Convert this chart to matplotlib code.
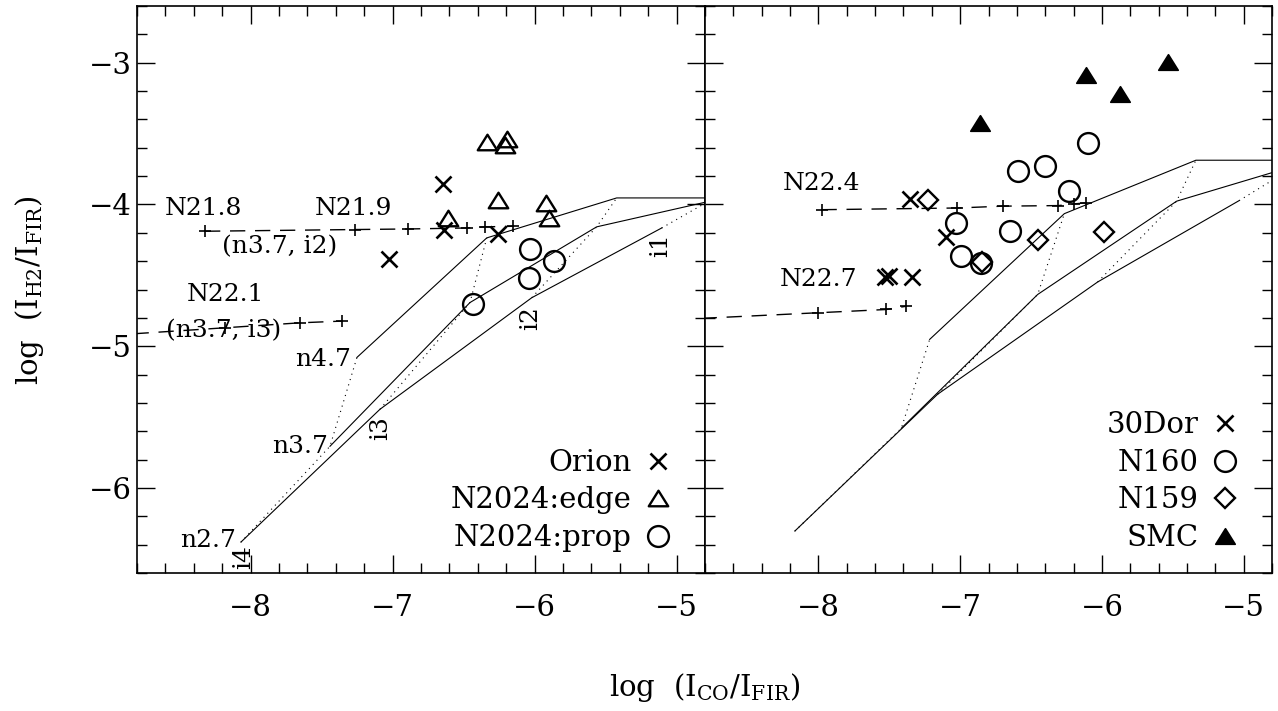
import matplotlib
matplotlib.use("Agg")
import matplotlib.pyplot as plt
import numpy as np
from matplotlib.path import Path
from matplotlib.ticker import MultipleLocator

plt.rcParams['font.family'] = ['DejaVu Serif', 'DejaVu Sans']
plt.rcParams['mathtext.fontset'] = 'dejavuserif'

XLIM = (-8.8, -4.8)
YLIM = (-6.6, -2.6)

# ---------------- model grids ----------------
# rows: density n2.7, n3.7, n4.7 ; columns: intensity i4, i3, i2, i1
left_grid_x = [[-8.068, -7.089, -6.020, -5.105],
               [-7.441, -6.455, -5.563, -4.779],
               [-7.251, -6.337, -5.422, -4.500]]
left_grid_y = [[-6.382, -5.445, -4.658, -4.166],
               [-5.706, -4.692, -4.158, -3.980],
               [-5.079, -4.236, -3.954, -3.954]]
right_grid_x = [[-8.166, -7.159, -6.030, -5.032],
                [-7.415, -6.453, -5.473, -4.624],
                [-7.215, -6.265, -5.337, -4.400]]
right_grid_y = [[-6.304, -5.339, -4.547, -3.973],
                [-5.579, -4.635, -3.977, -3.723],
                [-4.952, -4.065, -3.688, -3.688]]

# ---------------- column density tracks ----------------
left_track1_x = [-8.321, -7.265, -6.892, -6.478, -6.349, -6.150]
left_track1_y = [-4.189, -4.177, -4.173, -4.166, -4.158, -4.154]
left_track2_x = [-9.0, -8.180, -7.652, -7.359]
left_track2_y = [-4.924, -4.870, -4.835, -4.823]
right_track1_x = [-7.978, -7.022, -6.699, -6.307, -6.194, -6.115]
right_track1_y = [-4.037, -4.025, -4.012, -4.008, -3.996, -3.989]
right_track2_x = [-9.0, -8.002, -7.520, -7.380]
right_track2_y = [-4.812, -4.764, -4.741, -4.718]

# ---------------- observations ----------------
orion_x = [-6.647, -6.635, -6.258, -7.023]
orion_y = [-3.856, -4.183, -4.211, -4.384]
edge_x = [-6.333, -6.192, -6.208, -6.256, -5.920, -5.896, -6.608]
edge_y = [-3.558, -3.538, -3.579, -3.968, -3.992, -4.095, -4.095]
prop_x = [-6.432, -6.032, -6.037, -5.863]
prop_y = [-4.701, -4.313, -4.518, -4.401]

dor_x = [-7.356, -7.098, -7.532, -7.502, -7.337]
dor_y = [-3.959, -4.232, -4.513, -4.506, -4.511]
n160_x = [-6.101, -6.594, -6.401, -6.234, -7.027, -6.647, -6.992, -6.851]
n160_y = [-3.567, -3.767, -3.732, -3.908, -4.130, -4.189, -4.366, -4.412]
n159_x = [-7.227, -6.848, -6.453, -5.988]
n159_y = [-3.966, -4.408, -4.250, -4.196]
smc_x = [-6.858, -6.110, -5.870, -5.535]
smc_y = [-3.422, -3.085, -3.221, -2.998]

# ---------------- annotations ----------------
left_labels = ["N21.8", "N21.9", "(n3.7, i2)", "N22.1", "(n3.7, i3)",
               "n4.7", "n3.7", "n2.7"]
left_labels_x = [-8.335, -7.277, -7.796, -8.175, -8.192, -7.488, -7.652, -8.302]
left_labels_y = [-4.072, -4.072, -4.342, -4.682, -4.940, -5.140, -5.750, -6.419]
left_ilabels = ["i4", "i3", "i2", "i1"]
left_ilabels_x = [-8.051, -7.082, -6.025, -5.110]
left_ilabels_y = [-6.487, -5.579, -4.804, -4.290]
right_labels = ["N22.4", "N22.7"]
right_labels_x = [-7.978, -8.002]
right_labels_y = [-3.896, -4.577]

# triangle marker (wider than tall)
tri = Path([(0, 0.8), (-1, -0.8), (1, -0.8), (0, 0.8)],
           [Path.MOVETO, Path.LINETO, Path.LINETO, Path.CLOSEPOLY])

fig = plt.figure(figsize=(12.78, 7.11), dpi=100)
axL = fig.add_axes([137/1278, (711-573)/711, 568/1278, 567/711])
axR = fig.add_axes([705/1278, (711-573)/711, 567/1278, 567/711])

TICKFS = 21
for ax in (axL, axR):
    ax.set_xlim(*XLIM)
    ax.set_ylim(*YLIM)
    ax.xaxis.set_major_locator(MultipleLocator(1))
    ax.xaxis.set_minor_locator(MultipleLocator(0.2))
    ax.yaxis.set_major_locator(MultipleLocator(1))
    ax.yaxis.set_minor_locator(MultipleLocator(0.2))
    ax.tick_params(which='both', direction='in', top=True, right=True,
                   width=1.0, color='k', labelsize=TICKFS)
    ax.tick_params(which='major', length=13)
    ax.tick_params(which='minor', length=7)
    ax.tick_params(axis='x', pad=15)
    ax.tick_params(axis='y', pad=4)
    for s in ax.spines.values():
        s.set_linewidth(1.2)
axR.tick_params(labelleft=False)


def draw_grid(ax, gx, gy):
    gx = np.asarray(gx)
    gy = np.asarray(gy)
    for j in range(gx.shape[1]):
        ax.plot(gx[:, j], gy[:, j], color='k', lw=0.8, linestyle=(0, (1, 4)))
    for i in range(gx.shape[0]):
        ax.plot(gx[i], gy[i], color='k', lw=0.8)


def draw_track(ax, x, y):
    ax.plot(x, y, color='k', lw=1.0, linestyle=(0, (11, 7)),
            marker='+', ms=9, mew=1.2)


draw_grid(axL, left_grid_x, left_grid_y)
draw_grid(axR, right_grid_x, right_grid_y)
draw_track(axL, left_track1_x, left_track1_y)
draw_track(axL, left_track2_x, left_track2_y)
draw_track(axR, right_track1_x, right_track1_y)
draw_track(axR, right_track2_x, right_track2_y)

h_orion, = axL.plot(orion_x, orion_y, ls='none', marker='x', ms=11, mew=1.9,
                    color='k', label='Orion')
h_edge, = axL.plot(edge_x, edge_y, ls='none', marker=tri, ms=14, mew=1.7,
                   mfc='none', mec='k', label='N2024:edge')
h_prop, = axL.plot(prop_x, prop_y, ls='none', marker='o', ms=15, mew=1.7,
                   mfc='none', mec='k', label='N2024:prop')

h_dor, = axR.plot(dor_x, dor_y, ls='none', marker='x', ms=11, mew=1.9,
                  color='k', label='30Dor')
h_160, = axR.plot(n160_x, n160_y, ls='none', marker='o', ms=15, mew=1.7,
                  mfc='none', mec='k', label='N160')
h_159, = axR.plot(n159_x, n159_y, ls='none', marker='D', ms=10.5, mew=1.7,
                  mfc='none', mec='k', label='N159')
h_smc, = axR.plot(smc_x, smc_y, ls='none', marker=tri, ms=14, mew=1.2,
                  mfc='k', mec='k', label='SMC')

ANNFS = 18
for t, x, y in zip(left_labels, left_labels_x, left_labels_y):
    axL.text(x, y, t, fontsize=ANNFS, ha='center', va='baseline')
for t, x, y in zip(left_ilabels, left_ilabels_x, left_ilabels_y):
    axL.text(x, y, t, fontsize=ANNFS, ha='center', va='center', rotation=90)
for t, x, y in zip(right_labels, right_labels_x, right_labels_y):
    axR.text(x, y, t, fontsize=ANNFS, ha='center', va='baseline')

leg_kw = dict(loc='lower right', markerfirst=False, frameon=False,
              handlelength=0.8, handletextpad=0.5, labelspacing=0.33,
              borderpad=0, borderaxespad=0, fontsize=TICKFS, numpoints=1)
axL.legend([h_orion, h_edge, h_prop], ['Orion', 'N2024:edge', 'N2024:prop'],
           bbox_to_anchor=(0.938, 0.037), **leg_kw)
axR.legend([h_dor, h_160, h_159, h_smc], ['30Dor', 'N160', 'N159', 'SMC'],
           bbox_to_anchor=(0.938, 0.037), **leg_kw)

fig.text(705/1278, 1 - 688/711,
         r'log  (I$_{\mathrm{CO}}$/I$_{\mathrm{FIR}}$)',
         fontsize=TICKFS, ha='center', va='center')
fig.text(30/1278, 1 - 290/711,
         r'log  (I$_{\mathrm{H2}}$/I$_{\mathrm{FIR}}$)',
         fontsize=TICKFS, ha='center', va='center', rotation=90)

fig.savefig('out.png', dpi=100)
